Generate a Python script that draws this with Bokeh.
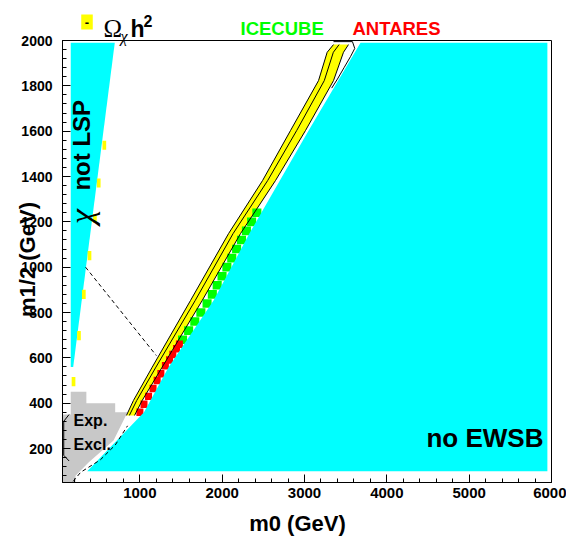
import math
from bokeh.plotting import figure
from bokeh.models import Label, Range1d, SingleIntervalTicker
from bokeh.embed import file_html
from bokeh.resources import INLINE

# ---------------- data (m0, m1/2 in GeV) ----------------
# no EWSB region boundary (cyan)
ewsb_m0 = [360, 1050, 1350, 1895, 2330, 3050, 3680, 5950, 5950]
ewsb_m12 = [100, 360, 560, 853, 1148, 1603, 1990, 1990, 100]

# neutralino not LSP region (cyan wedge)
notlsp_m0 = [160, 695, 190, 160]
notlsp_m12 = [1990, 1990, 560, 560]

# experimentally excluded region (grey)
excl_m0 = [60, 60, 160, 160, 350, 350, 700, 700, 850, 680, 376, 218, 218]
excl_m12 = [50, 350, 350, 450, 450, 400, 400, 360, 360, 235, 138, 80, 50]

# relic density strip (yellow)
relic_m12 = [346, 412, 559, 853, 1148, 1382, 1603, 1823, 1948, 1982]
relic_lo_m0 = [837, 922, 1150, 1615, 2077, 2490, 2830, 3170, 3275, 3352]
relic_mid_m0 = [872, 962, 1195, 1672, 2132, 2552, 2905, 3240, 3350, 3420]
relic_hi_m0 = [935, 1028, 1271, 1757, 2222, 2647, 3012, 3352, 3473, 3534]

# outer relic contour near the top of the strip
outer_m0 = [3352, 3582, 3610, 3560, 3480, 3400, 3330]
outer_m12 = [1995, 1995, 1965, 1930, 1880, 1830, 1790]

# relic density cells along the "not LSP" boundary
chi_relic_m0 = [568, 500, 453, 388, 319, 260, 194]
chi_relic_m12 = [1538, 1371, 1215, 1051, 880, 698, 495]

# ICECUBE sensitive points (green)
icecube_m0 = [1518, 1592, 1667, 1741, 1816, 1880, 1939, 1998, 2057, 2116, 2175, 2234, 2294, 2357, 2421]
icecube_m12 = [680, 720, 760, 800, 840, 880, 920, 960, 1000, 1040, 1080, 1120, 1160, 1200, 1240]

# ANTARES sensitive points (red)
antares_m0 = [1000, 1050, 1105, 1160, 1210, 1255, 1310, 1360, 1400, 1445, 1480]
antares_m12 = [360, 395, 430, 465, 500, 530, 565, 590, 615, 640, 660]

# dashed contour
dash_m0 = [340, 1200]
dash_m12 = [1000, 610]

# LEP contour
lep_m0 = [140, 75, 75, 140]
lep_m12 = [350, 320, 170, 145]
lep2_m0 = [190, 280, 520, 700, 850]
lep2_m12 = [55, 95, 150, 215, 300]

FONT = "Liberation Sans"

# layout: the frame sits at page pixels (62..551, 40..482).  Generous top/left
# borders hold the outside texts; a negative margin brings the frame back in place.
BL, BT, BR, BB = 100, 240, 15, 54
DX, DY = BL - 62, BT - 40
W = BL + 489 + BR
H = BT + 442 + BB

p = figure(width=W, height=H, x_range=Range1d(60, 6000), y_range=Range1d(50, 2000),
           output_backend="svg", toolbar_location=None,
           min_border_left=BL, min_border_right=BR, min_border_top=BT, min_border_bottom=BB,
           margin=(-DY, 0, 0, -DX))
p.xgrid.visible = False
p.ygrid.visible = False
p.outline_line_color = "black"
p.outline_line_width = 1
p.background_fill_color = "white"
p.border_fill_color = "white"

p.xaxis.ticker = SingleIntervalTicker(interval=1000, num_minor_ticks=5)
p.yaxis.ticker = SingleIntervalTicker(interval=200, num_minor_ticks=5)
for ax in (p.xaxis[0], p.yaxis[0]):
    ax.major_tick_in = 8
    ax.major_tick_out = 0
    ax.minor_tick_in = 4
    ax.minor_tick_out = 0
    ax.axis_line_color = "black"
    ax.major_tick_line_color = "black"
    ax.minor_tick_line_color = "black"
    ax.major_label_text_font = FONT
    ax.major_label_text_font_style = "bold"
    ax.major_label_text_color = "black"
p.xaxis.major_label_text_font_size = "15px"
p.yaxis.major_label_text_font_size = "14px"
p.xaxis.major_label_standoff = 5
p.yaxis.major_label_standoff = 10

# regions
p.patch(excl_m0, excl_m12, fill_color="#c8c8c8", line_color=None)
p.patch(notlsp_m0, notlsp_m12, fill_color="#00ffff", line_color=None)
p.rect(chi_relic_m0, chi_relic_m12, width=45, height=40, fill_color="#ffff00", line_color=None)

p.patch(relic_lo_m0 + relic_hi_m0[::-1], relic_m12 + relic_m12[::-1],
        fill_color="#ffff00", line_color=None)
p.rect(icecube_m0, icecube_m12, width=110, height=38, fill_color="#00ff00", line_color=None)
p.rect(antares_m0, antares_m12, width=85, height=33, fill_color="#ff0000", line_color=None)

p.patch(ewsb_m0, ewsb_m12, fill_color="#00ffff", line_color=None)

# contours
p.line(relic_lo_m0, relic_m12, line_color="black", line_width=1)
p.line(relic_mid_m0, relic_m12, line_color="black", line_width=1)
p.line(relic_hi_m0, relic_m12, line_color="black", line_width=1)
p.line(outer_m0, outer_m12, line_color="black", line_width=1)
p.line(dash_m0, dash_m12, line_color="black", line_width=1, line_dash="4 3")
p.line(lep_m0, lep_m12, line_color="black", line_width=1)
p.line(lep2_m0, lep2_m12, line_color="black", line_width=1, line_dash="4 3")


def lab(x, y, text, size, color="black", style="bold", font=FONT, align="left",
        baseline="alphabetic", angle=0.0, place=None, **kw):
    kw2 = dict(kw)
    if place is not None:
        # page pixel position -> canvas position
        x, y = x + DX, y + DY
        kw2.update(x_units="canvas", y_units="canvas")
    label = Label(x=x, y=y, text=text, text_font_size=size, text_color=color,
                  text_font_style=style, text_font=font, text_align=align,
                  text_baseline=baseline, angle=angle, **kw2)
    if place is None:
        p.add_layout(label)
    else:
        p.add_layout(label, place)


# region labels (data coordinates, inside the frame)
lab(285, 1338, "not LSP", "24px", baseline="middle", angle=math.pi / 2)
lab(285, 1190, "\u03c7", "34px", style="italic", font="Liberation Serif",
    baseline="middle", angle=math.pi / 2)
lab(5192, 246, "no EWSB", "26px", align="center", baseline="middle")
lab(194, 323, "Exp.", "16px", baseline="middle")
lab(194, 218, "Excl.", "16px", baseline="middle")

# texts outside the frame (page pixel positions, held in the side panels)
lab(86.5, 21.5, "\u00a0-\u00a0", "13px", align="center", baseline="middle",
    background_fill_color="#ffff00", place="above")
lab(103, 28, "\u03a9", "25px", style="normal", font="Liberation Serif", place="above")
lab(120, 36, "\u03c7", "16px", style="italic", font="Liberation Serif", place="above")
lab(130, 28, "h", "23px", place="above")
lab(143, 20, "2", "16px", place="above")
lab(240, 28, "ICECUBE", "18.5px", color="#00ff00", place="above")
lab(352, 28, "ANTARES", "18.5px", color="#ff0000", place="above")
lab(27, 259, "m1/2 (GeV)", "22px", align="center", baseline="middle",
    angle=math.pi / 2, place="left")
lab(297, 523, "m0 (GeV)", "22px", align="center", place="above")

open("out.html", "w").write(file_html(p, INLINE))
